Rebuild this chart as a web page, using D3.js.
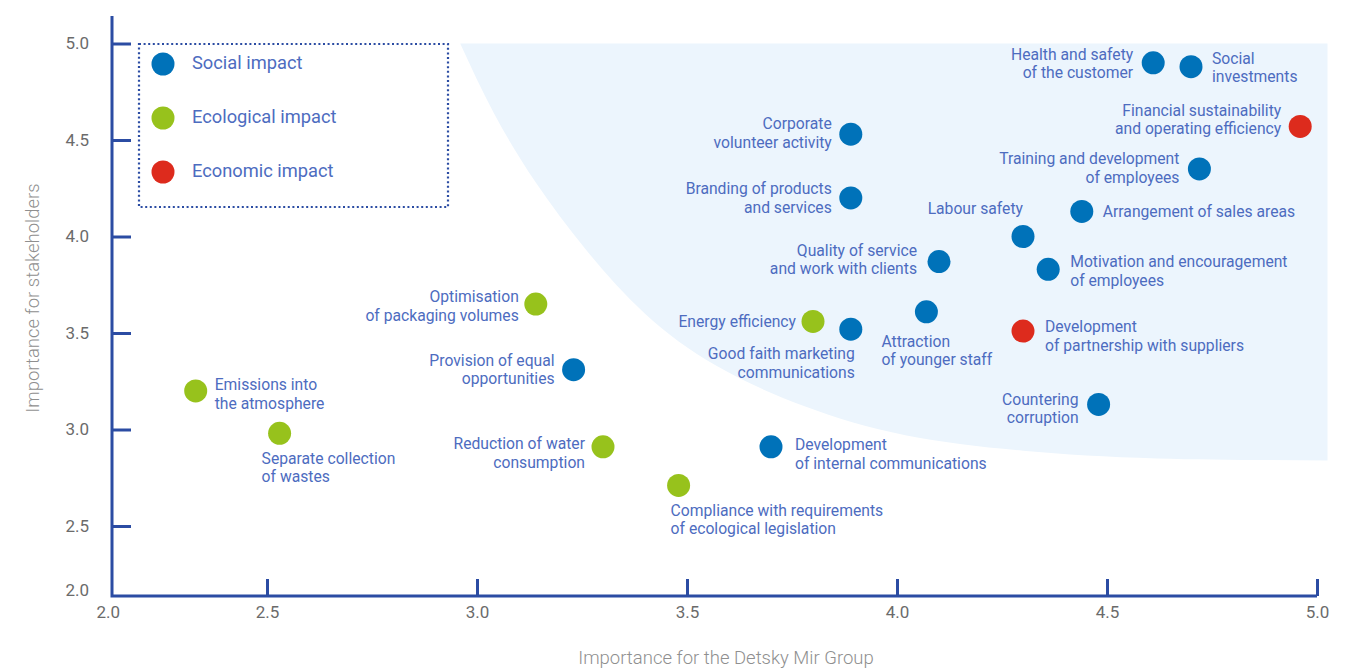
<!DOCTYPE html>
<meta charset="utf-8">
<style>
  body { margin: 0; background: #fff; }
  text { font-family: Roboto, "Noto Sans", sans-serif; }
</style>
<script src="https://d3js.org/d3.v7.min.js"></script>
<div id="my_dataviz"></div>
<script>
// data
var names = [
  "Emissions into|the atmosphere", "Separate collection|of wastes", "Optimisation|of packaging volumes",
  "Provision of equal|opportunities", "Reduction of water|consumption", "Compliance with requirements|of ecological legislation",
  "Development|of internal communications", "Energy efficiency", "Good faith marketing|communications",
  "Corporate|volunteer activity", "Branding of products|and services", "Quality of service|and work with clients",
  "Attraction|of younger staff", "Labour safety", "Arrangement of sales areas",
  "Motivation and encouragement|of employees", "Development|of partnership with suppliers", "Countering|corruption",
  "Training and development|of employees", "Financial sustainability|and operating efficiency",
  "Health and safety|of the customer", "Social|investments"
];
var groupImportance = [2.27, 2.53, 3.14, 3.23, 3.30, 3.48, 3.70, 3.80, 3.89, 3.89, 3.89, 4.10, 4.07, 4.30, 4.44, 4.36, 4.30, 4.48, 4.72, 4.96, 4.61, 4.70];
var stakeholderImportance = [3.20, 2.98, 3.65, 3.31, 2.91, 2.71, 2.91, 3.56, 3.52, 4.53, 4.20, 3.87, 3.61, 4.00, 4.13, 3.83, 3.51, 3.13, 4.35, 4.57, 4.90, 4.88];
var impact = ["eco", "eco", "eco", "soc", "eco", "eco", "soc", "eco", "soc", "soc", "soc", "soc", "soc", "soc", "soc", "soc", "econ", "soc", "soc", "econ", "soc", "soc"];

var legendKeys = ["soc", "eco", "econ"];
var legendLabels = ["Social impact", "Ecological impact", "Economic impact"];
var tickValues = [2.0, 2.5, 3.0, 3.5, 4.0, 4.5, 5.0];

// outline of the shaded "material topics" zone (data units)
var zoneX = [2.96, 3.04, 3.14, 3.26, 3.40, 3.57, 3.78, 4.02, 4.30, 4.62, 5.025];
var zoneY = [5.00, 4.64, 4.28, 3.93, 3.60, 3.33, 3.12, 2.97, 2.89, 2.85, 2.84];

// label placement: [dx, dy, anchor] relative to the dot
var labelLayout = [
  [19, -5, "start"], [-18, 26, "start"], [-17, -6, "end"], [-19, -8, "end"], [-18, -2, "end"],
  [-8, 26, "start"], [24, -1, "start"], [-17, 1, "end"], [4, 26, "end"], [-19, -9, "end"],
  [-19, -8, "end"], [-22, -10, "end"], [-45, 31, "start"], [0, -27, "end"], [21, 1, "start"],
  [22, -6, "start"], [22, -3, "start"], [-20, -4, "end"], [-20, -9, "end"], [-19, -15, "end"],
  [-20, -7, "end"], [21, -7, "start"]
];

var colors = { soc: "#0072b9", eco: "#97c21c", econ: "#dd2b1d" };
var axisColor = "#2b4ca3";
var labelColor = "#4d6cc0";

var width = 1360, height = 669;

var svg = d3.select("#my_dataviz")
  .append("svg")
  .attr("width", width)
  .attr("height", height);

// scales (first half unit of each axis is compressed)
var x = d3.scaleLinear().domain([2, 2.5, 5]).range([112, 267, 1317]);
var y = d3.scaleLinear().domain([2, 2.5, 5]).range([596, 526, 43.5]);

// shaded zone
var zonePts = zoneX.map(function(d, i) { return [d, zoneY[i]]; });
var zoneLine = d3.line()
  .x(function(d) { return x(d[0]); })
  .y(function(d) { return y(d[1]); })
  .curve(d3.curveNatural);
var pathD = zoneLine(zonePts) + "L" + x(5.025) + "," + y(5) + "Z";
svg.append("path")
  .attr("d", pathD)
  .attr("fill", "#ecf5fd");

// Y axis
var yAxis = svg.append("g")
  .attr("transform", "translate(112,0)")
  .call(d3.axisLeft(y).tickValues(tickValues).tickFormat(d3.format(".1f"))
    .tickSizeInner(-19).tickSizeOuter(0).tickPadding(23));
yAxis.select(".domain").remove();
yAxis.selectAll(".tick line").attr("stroke", axisColor).attr("stroke-width", 3);
yAxis.selectAll(".tick").filter(function(d) { return d === 2; }).select("line").remove();
yAxis.selectAll(".tick").filter(function(d) { return d === 2; }).select("text").attr("dy", "-0.05em");
yAxis.selectAll("text").attr("fill", "#6b6b6b").style("font-size", "17px");

// X axis
var xAxis = svg.append("g")
  .attr("transform", "translate(0,596)")
  .call(d3.axisBottom(x).tickValues(tickValues).tickFormat(d3.format(".1f"))
    .tickSizeInner(-17).tickSizeOuter(0).tickPadding(10));
xAxis.select(".domain").remove();
xAxis.selectAll(".tick line").attr("stroke", axisColor).attr("stroke-width", 3);
xAxis.selectAll(".tick").filter(function(d) { return d === 2; }).select("line").remove();
xAxis.selectAll(".tick").filter(function(d) { return d === 2; }).select("text").attr("dx", "-0.25em");
xAxis.selectAll("text").attr("fill", "#6b6b6b").style("font-size", "17px");

// axis lines
svg.append("path")
  .attr("d", "M" + x(2) + ",16V" + y(2) + "H" + x(5))
  .attr("fill", "none")
  .attr("stroke", axisColor)
  .attr("stroke-width", 3);

// axis titles
svg.append("text")
  .attr("x", 726).attr("y", 659)
  .attr("text-anchor", "middle")
  .attr("dominant-baseline", "middle")
  .attr("fill", "#8f8f8f")
  .style("font-size", "18.5px")
  .style("font-weight", 300)
  .text("Importance for the Detsky Mir Group");
svg.append("text")
  .attr("transform", "translate(34,298)rotate(-90)")
  .attr("text-anchor", "middle")
  .attr("dominant-baseline", "middle")
  .attr("fill", "#8f8f8f")
  .style("font-size", "18.5px")
  .style("font-weight", 300)
  .text("Importance for stakeholders");

// legend
svg.append("rect")
  .attr("x", 139).attr("y", 44)
  .attr("width", 309).attr("height", 163)
  .attr("fill", "none")
  .attr("stroke", axisColor)
  .attr("stroke-width", 2.2)
  .attr("stroke-dasharray", "2,2.6");
var legend = svg.selectAll("g.leg")
  .data(legendKeys)
  .enter()
  .append("g")
  .attr("class", "leg")
  .attr("transform", function(d, i) { return "translate(163," + (64 + i * 54) + ")"; });
legend.append("circle").attr("r", 11.5).attr("fill", function(d) { return colors[d]; });
legend.append("text")
  .attr("x", 29)
  .attr("dominant-baseline", "middle")
  .attr("fill", labelColor)
  .style("font-size", "18.3px")
  .text(function(d, i) { return legendLabels[i]; });

// points
var pts = names.map(function(n, i) {
  return { name: n, gx: groupImportance[i], sy: stakeholderImportance[i], type: impact[i], lay: labelLayout[i] };
});

svg.selectAll("circle.dot")
  .data(pts)
  .enter()
  .append("circle")
  .attr("class", "dot")
  .attr("cx", function(d) { return x(d.gx); })
  .attr("cy", function(d) { return y(d.sy); })
  .attr("r", 11.5)
  .attr("fill", function(d) { return colors[d.type]; });

var labels = svg.selectAll("text.lbl")
  .data(pts)
  .enter()
  .append("text")
  .attr("class", "lbl")
  .attr("text-anchor", function(d) { return d.lay[2]; })
  .attr("fill", labelColor)
  .style("font-size", "15.7px");
labels.each(function(d) {
  var t = d3.select(this);
  d.name.split("|").forEach(function(line, k) {
    t.append("tspan")
      .attr("x", x(d.gx) + d.lay[0])
      .attr("y", y(d.sy) + d.lay[1] + k * 18.5)
      .attr("dominant-baseline", "middle")
      .text(line);
  });
});
</script>
